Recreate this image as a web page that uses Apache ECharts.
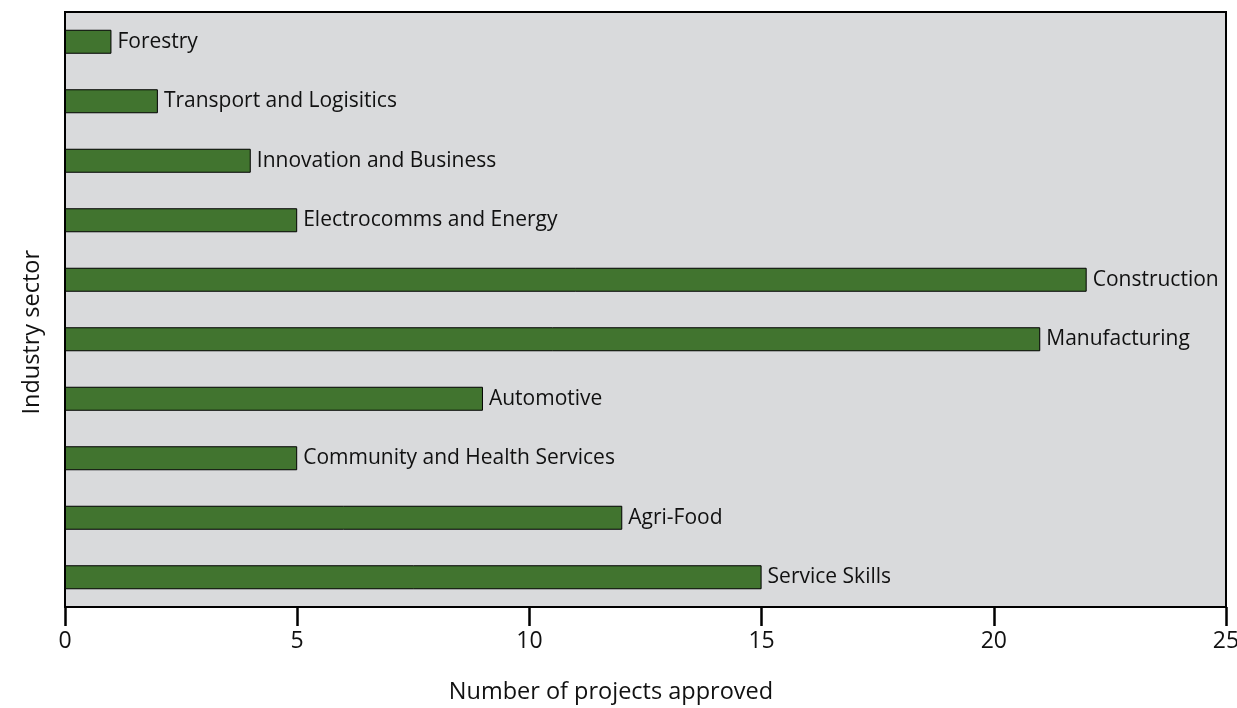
<!DOCTYPE html>
<html>
<head>
<meta charset="utf-8">
<script src="https://cdn.jsdelivr.net/npm/echarts@6/dist/echarts.min.js"></script>
<style>html,body{margin:0;padding:0;background:#fff;}#c{width:1237px;height:708px;}</style>
</head>
<body>
<div id="c"></div>
<script>
const categories = ["Forestry","Transport and Logisitics","Innovation and Business","Electrocomms and Energy","Construction","Manufacturing","Automotive","Community and Health Services","Agri-Food","Service Skills"];
const projects = [1,2,4,5,22,21,9,5,12,15];
const xTicks = [0,5,10,15,20,25];

const FONT = '"Open Sans", "Noto Sans", sans-serif';
const chart = echarts.init(document.getElementById('c'));
chart.setOption({
  animation: false,
  backgroundColor: '#ffffff',
  grid: {left: 65, right: 11, top: 12, bottom: 101, outerBoundsMode: 'none', containLabel: false, show: true, backgroundColor: '#d9dadc', borderColor: '#000', borderWidth: 2},
  xAxis: {
    type: 'value', min: xTicks[0], max: xTicks[xTicks.length-1], interval: 5,
    axisLine: {show: true, lineStyle: {color: '#000', width: 2}},
    axisTick: {show: true, length: 19, lineStyle: {color: '#000', width: 2.5}},
    axisLabel: {fontFamily: FONT, fontSize: 23, color: '#111', margin: 23},
    splitLine: {show: false}
  },
  yAxis: {
    type: 'category', data: categories, inverse: true,
    axisLine: {show: true, lineStyle: {color: '#000', width: 2}},
    axisTick: {show: false}, axisLabel: {show: false}, splitLine: {show: false}
  },
  graphic: [{
    type: 'text', left: 20, top: 250, rotation: Math.PI/2,
    style: {text: 'Industry sector', fontFamily: FONT, fontSize: 23.5, fill: '#111'}
  }, {
    type: 'text', x: 611, y: 692,
    style: {text: 'Number of projects approved', fontFamily: FONT, fontSize: 23.5, fill: '#111', align: 'center', verticalAlign: 'middle'}
  }],
  series: [{
    type: 'bar', data: projects, barWidth: 24,
    itemStyle: {color: '#41742f', borderColor: '#000', borderWidth: 1},
    label: {show: true, position: 'right', distance: 6, formatter: p => categories[p.dataIndex], fontFamily: FONT, fontSize: 21, color: '#111'}
  }]
});
</script>
</body>
</html>
